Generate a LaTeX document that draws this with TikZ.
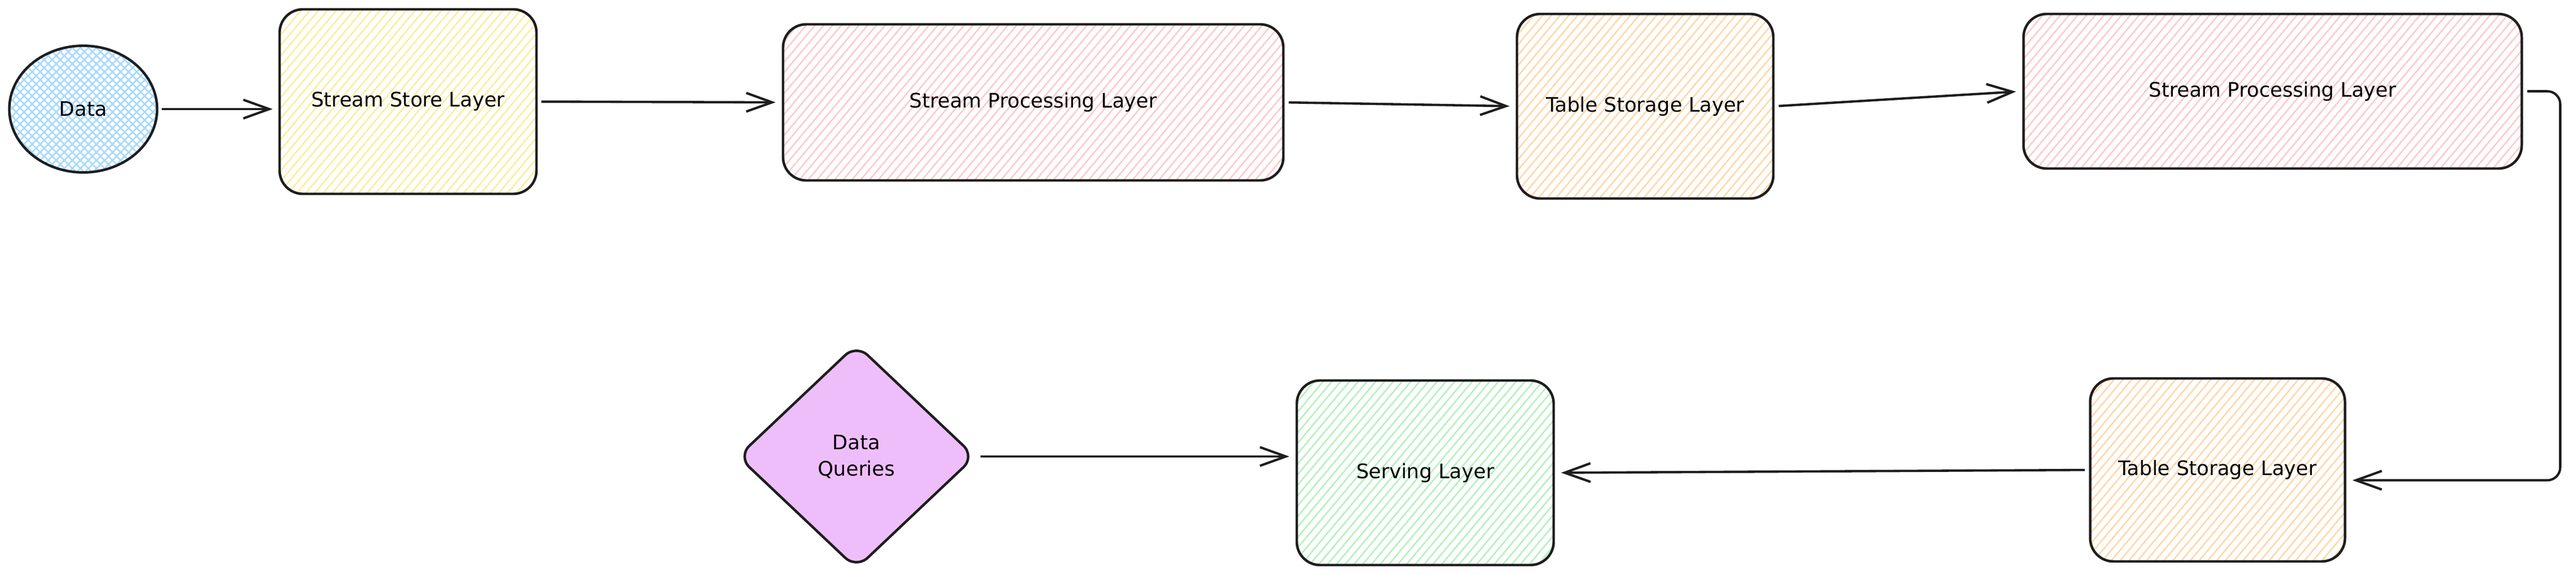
\documentclass[tikz,border=0pt]{standalone}
\usepackage{fontspec}
\setmainfont{DejaVu Sans}
\usetikzlibrary{shapes.geometric,arrows.meta,patterns.meta,positioning}

\definecolor{ink}{HTML}{1E1E1E}
\definecolor{datablue}{HTML}{A5D8FF}
\definecolor{storeyellow}{HTML}{FFEC99}
\definecolor{procred}{HTML}{FFC9C9}
\definecolor{tableorange}{HTML}{FFD8A8}
\definecolor{servegreen}{HTML}{B2F2BB}
\definecolor{querypurple}{HTML}{EEBEFA}

\begin{document}
\begin{tikzpicture}[
        layer/.style={draw=ink, line width=1.4pt, rounded corners=0.45cm, align=center,
            inner sep=0pt, font=\fontsize{11}{14.5}\selectfont},
        hatch/.style={pattern={Lines[angle=50,distance=0.13cm,line width=0.8pt]}, pattern color=#1},
        arr/.style={draw=ink, line width=1.3pt, -{Straight Barb[length=0.5cm,width=0.36cm]},
            shorten >=0.12cm, shorten <=0.08cm}
    ]
            \useasboundingbox (0,0) rectangle (49.84,-11.19);
            % top row
            \node[layer, ellipse, rounded corners=0pt, minimum width=2.86cm, minimum height=2.45cm,
                preaction={pattern={Lines[angle=45,distance=0.11cm,line width=0.8pt]}, pattern color=datablue},
                pattern={Lines[angle=-45,distance=0.11cm,line width=0.8pt]}, pattern color=datablue]
                (data) at (1.61,-2.11) {Data};
            \node[layer, hatch=storeyellow, minimum width=4.97cm, minimum height=3.57cm]
                (store) at (7.895,-1.965) {Stream Store Layer};
            \node[layer, hatch=procred, minimum width=9.68cm, minimum height=3.02cm]
                (proc1) at (19.99,-1.98) {Stream Processing Layer};
            \node[layer, hatch=tableorange, minimum width=4.96cm, minimum height=3.57cm]
                (table1) at (31.83,-2.055) {Table Storage Layer};
            \node[layer, hatch=procred, minimum width=9.64cm, minimum height=2.99cm]
                (proc2) at (43.97,-1.765) {Stream Processing Layer};
            % bottom row
            \node[layer, hatch=tableorange, minimum width=4.93cm, minimum height=3.54cm]
                (table2) at (42.905,-9.09) {Table Storage Layer};
            \node[layer, hatch=servegreen, minimum width=4.97cm, minimum height=3.57cm]
                (serving) at (27.575,-9.145) {Serving Layer};
            \node[layer, diamond, rounded corners=0.3cm, fill=querypurple, aspect=1.06,
                minimum width=4.6cm, minimum height=4.35cm]
                (queries) at (16.57,-8.83) {Data\\Queries};
            % connectors
            \draw[arr] (data.east) -- (data.east -| store.west);
            \draw[arr] (store.east) -- (proc1.west);
            \draw[arr] (proc1.east) -- (table1.west);
            \draw[arr] (table1.east) -- (proc2.west);
            \draw[arr, rounded corners=0.25cm] (proc2.east) -- ++(0.72,0) |- ([yshift=-0.2cm]table2.east);
            \draw[arr] (table2.west) -- (serving.east);
            \draw[arr] (queries.east) -- (queries.east -| serving.west);
        \end{tikzpicture}
\end{document}
